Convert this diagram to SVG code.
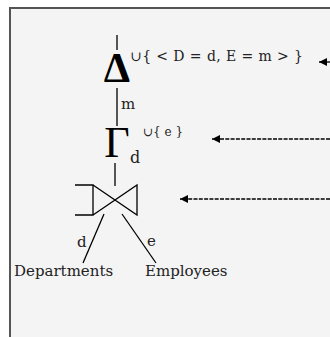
<svg xmlns="http://www.w3.org/2000/svg" width="330" height="337" viewBox="0 0 330 337">
<defs>
<marker id="ah" viewBox="0 0 10 10" refX="10" refY="5" markerWidth="12" markerHeight="8" markerUnits="userSpaceOnUse" orient="auto">
<path d="M0,0 L10,5 L0,10 Z" fill="#000"/>
</marker>
<style>
.t{font-family:"DejaVu Serif","Liberation Serif",serif;fill:#222}
.sym{font-family:"Liberation Serif","DejaVu Serif",serif;fill:#000}
.ln{stroke:#000;stroke-width:1.3;fill:none}
.da{stroke:#000;stroke-width:1.6;fill:none;stroke-dasharray:4 1.3}
</style>
</defs>
<rect x="0" y="0" width="330" height="337" fill="#fff"/>
<rect x="10" y="8" width="330" height="340" fill="#f4f4f4" stroke="#555" stroke-width="2"/>
<g id="delta">
<text class="sym" x="117" y="82" font-size="42" font-weight="bold" text-anchor="middle">Δ</text>
<text class="t" x="130" y="61" font-size="14" textLength="173" lengthAdjust="spacing">∪{ &lt; D = d, E = m &gt; }</text>
</g>
<g id="gamma">
<text class="sym" x="117" y="157" font-size="44" text-anchor="middle">Γ</text>
<text class="t" x="143" y="136" font-size="12">∪{ e }</text>
<text class="t" x="130" y="163" font-size="16">d</text>
</g>
<g id="join">
<path class="ln" d="M75,185 H93 V215 H75 M93,185 L137,215 V185 L93,215"/>
</g>
<g id="departments">
<text class="t" x="14" y="276" font-size="15">Departments</text>
</g>
<g id="employees">
<text class="t" x="145" y="276" font-size="15">Employees</text>
</g>
<g id="connectors">
<line class="ln" x1="117" y1="35" x2="117" y2="50"/>
<line class="ln" x1="117" y1="88" x2="117" y2="126"/>
<text class="t" x="121" y="109" font-size="15">m</text>
<line class="ln" x1="115" y1="163" x2="115" y2="186"/>
<line class="ln" x1="104" y1="214" x2="83" y2="263"/>
<text class="t" x="77" y="247" font-size="15">d</text>
<line class="ln" x1="122" y1="214" x2="156" y2="263"/>
<text class="t" x="147" y="246" font-size="15">e</text>
<line class="ln" x1="345" y1="62" x2="319" y2="62" marker-end="url(#ah)"/>
<line class="da" x1="330" y1="139" x2="212" y2="139" marker-end="url(#ah)"/>
<line class="da" x1="330" y1="199" x2="180" y2="199" marker-end="url(#ah)"/>
</g>
</svg>
